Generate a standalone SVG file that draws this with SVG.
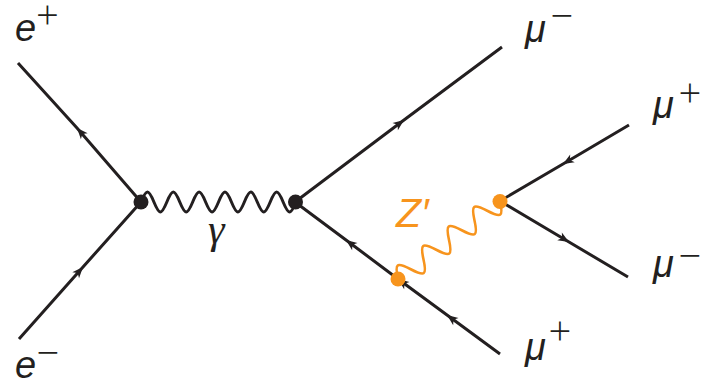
<svg xmlns="http://www.w3.org/2000/svg" width="703" height="382" viewBox="0 0 703 382">
<style>
.fermion{fill:none;stroke:#231f20;stroke-width:3;marker-mid:url(#arr)}
.photon{fill:none;stroke:#231f20;stroke-width:3}
.zp{fill:none;stroke:#f7941d;stroke-width:2.6}
.lbl{font-family:"Liberation Sans",Arial,sans-serif;font-style:italic;font-size:38px;fill:#231f20}
.sup{font-family:"Open Sans","Liberation Sans",sans-serif;font-weight:300;font-size:40px;fill:#231f20;text-anchor:middle}
.vb{fill:#231f20}
.vo{fill:#f7941d}
</style>
<defs>
<marker id="arr" viewBox="-12 -6 13 12" markerWidth="13" markerHeight="12" refX="0" refY="0" orient="auto" markerUnits="userSpaceOnUse" overflow="visible">
<path d="M0,0 L-11,-4.5 L-8,0 L-11,4.5 Z" fill="#231f20"/>
</marker>
</defs>
<g id="connectors">
<path class="fermion" d="M141,202 L77,128 L18,63"/>
<path class="fermion" d="M19,339 L83,267 L141,202"/>
<path class="fermion" d="M295,202 L404,120 L502,47"/>
<path class="fermion" d="M500,354 L447,315 L398,279 L346,240 L295,202"/>
<path class="fermion" d="M629,125 L563,164 L500,201"/>
<path class="fermion" d="M500,201 L569,242 L628,277"/>
<path class="photon" transform="translate(141,202)" d="M0,0 c5.48,-13.3 7.44,-13.3 12.92,0 c5.48,13.3 7.44,13.3 12.92,0 c5.48,-13.3 7.44,-13.3 12.92,0 c5.48,13.3 7.44,13.3 12.92,0 c5.48,-13.3 7.44,-13.3 12.92,0 c5.48,13.3 7.44,13.3 12.92,0 c5.48,-13.3 7.44,-13.3 12.92,0 c5.48,13.3 7.44,13.3 12.92,0 c5.48,-13.3 7.44,-13.3 12.92,0 c5.48,13.3 7.44,13.3 12.92,0 c5.48,-13.3 7.44,-13.3 12.92,0 c5.48,13.3 7.44,13.3 12.92,0"/>
<path class="zp" transform="translate(398,279) rotate(-37.4)" d="M0,0 c6.81,-14.6 9.24,-14.6 16.05,0 c6.81,14.6 9.24,14.6 16.05,0 c6.81,-14.6 9.24,-14.6 16.05,0 c6.81,14.6 9.24,14.6 16.05,0 c6.81,-14.6 9.24,-14.6 16.05,0 c6.81,14.6 9.24,14.6 16.05,0 c6.81,-14.6 9.24,-14.6 16.05,0 c6.81,14.6 9.24,14.6 16.05,0"/>
</g>
<g id="v1"><circle class="vb" cx="141" cy="202" r="7.5"/></g>
<g id="v2"><circle class="vb" cx="295.5" cy="202" r="7.5"/></g>
<g id="v3"><circle class="vo" cx="398" cy="279" r="7.5"/></g>
<g id="v4"><circle class="vo" cx="500" cy="201.5" r="7.5"/></g>
<g id="label-gamma"><text x="208" y="243" font-family="'Liberation Serif',serif" font-style="italic" font-size="42" fill="#231f20">γ</text></g>
<g id="label-zprime"><text x="396" y="227" font-family="'Liberation Sans',Arial,sans-serif" font-style="italic" font-size="41" fill="#f7941d">Z′</text></g>
<g id="e-plus"><text class="lbl" x="15" y="41">e</text><text class="sup" x="47.5" y="29">+</text></g>
<g id="e-minus"><text class="lbl" x="15" y="378">e</text><text class="sup" x="48" y="367">−</text></g>
<g id="mu-minus-top"><text class="lbl" x="525" y="42">μ</text><text class="sup" x="562" y="30">−</text></g>
<g id="mu-plus-right"><text class="lbl" x="653" y="118">μ</text><text class="sup" x="690" y="107">+</text></g>
<g id="mu-minus-right"><text class="lbl" x="653" y="277">μ</text><text class="sup" x="690" y="270">−</text></g>
<g id="mu-plus-bottom"><text class="lbl" x="525" y="360">μ</text><text class="sup" x="560" y="345">+</text></g>
</svg>
